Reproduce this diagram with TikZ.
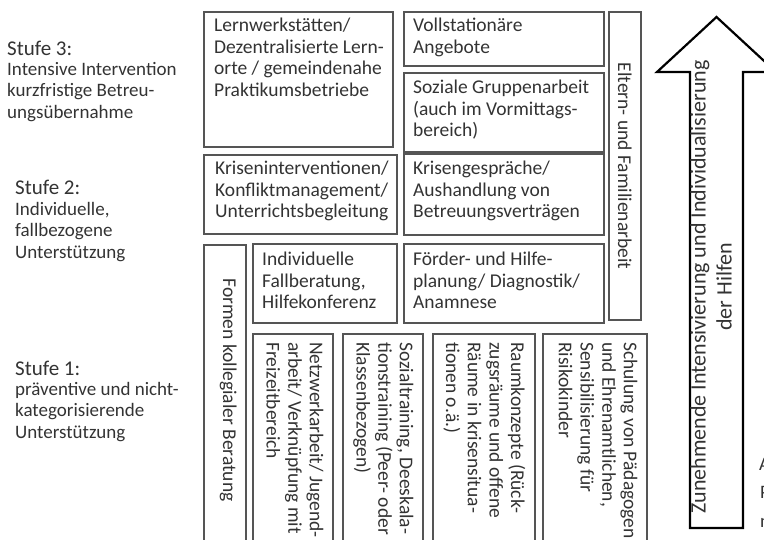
\documentclass[tikz,border=0pt]{standalone}
\usepackage{fontspec}
\setmainfont{Carlito}
\definecolor{linie}{HTML}{555555}
\definecolor{schrift}{HTML}{333333}

\begin{document}
\begin{tikzpicture}[x=1pt, y=-1pt,
	feld/.style={draw=linie, line width=1.1pt},
	txt/.style={anchor=north west, align=left, inner sep=0pt, text=schrift,
		font=\fontsize{19.5}{21.7}\selectfont, execute at begin node=\strut},
	stufe/.style={anchor=base west, inner sep=0pt, text=schrift, font=\fontsize{21}{25}\selectfont},
	hoch/.style={txt, rotate=-90}]
	\path[use as bounding box] (0,0) rectangle (764,540);
	\clip (0,0) rectangle (764,540);

	% Stufen links
	\node[stufe] (stufe3) at (7,56) {Stufe 3:};
	\node[txt, font=\fontsize{19}{21.7}\selectfont] (stufe3text) at (7,61.8) {Intensive Intervention\\kurzfristige Betreu-\\ungsübernahme};
	\node[stufe] (stufe2) at (15,195) {Stufe 2:};
	\node[txt, font=\fontsize{19}{21.7}\selectfont] (stufe2text) at (15,201.8) {Individuelle,\\fallbezogene\\Unterstützung};
	\node[stufe] (stufe1) at (15,376) {Stufe 1:};
	\node[txt, font=\fontsize{19}{21.7}\selectfont] (stufe1text) at (15,381.8) {präventive und nicht-\\kategorisierende\\Unterstützung};

	% Stufe 3
	\draw[feld] (204,12) rectangle (393,147);
	\node[txt] (lernorte) at (214,17.8) {Lernwerkstätten/\\Dezentralisierte Lern-\\orte / gemeindenahe\\Praktikumsbetriebe};
	\draw[feld] (404,12) rectangle (604,66);
	\node[txt] (stationaer) at (413,17.8) {Vollstationäre\\Angebote};
	\draw[feld] (404,73) rectangle (604,152);
	\node[txt] (gruppe) at (413,79.8) {Soziale Gruppenarbeit\\(auch im Vormittags-\\bereich)};
	\draw[feld] (609,12) rectangle (641,320);
	\node[hoch, anchor=base] (eltern) at (618,166) {Eltern- und Familienarbeit};

	% Stufe 2
	\draw[feld] (204,155) rectangle (397,234);
	\node[txt] (krisenint) at (215,160.8) {Kriseninterventionen/\\Konfliktmanagement/\\Unterrichtsbegleitung};
	\draw[feld] (404,154) rectangle (604,235);
	\node[txt] (krisengespr) at (413,160.8) {Krisengespräche/\\Aushandlung von\\Betreuungsverträgen};

	% Stufe 1
	\draw[feld] (204,245) rectangle (246,560);
	\node[hoch, anchor=base] (kollegial) at (223,390) {Formen kollegialer Beratung};
	\draw[feld] (253,244) rectangle (397,323);
	\node[txt] (fallberatung) at (262,251.8) {Individuelle\\Fallberatung,\\Hilfekonferenz};
	\draw[feld] (404,244) rectangle (604,323);
	\node[txt] (foerder) at (413,251.8) {Förder- und Hilfe-\\planung/ Diagnostik/\\Anamnese};

	\draw[feld] (253,334) rectangle (333,560);
	\node[hoch] (netzwerk) at (323.7,342) {Netzwerkarbeit/ Jugend-\\arbeit/ Verknüpfung mit\\Freizeitbereich};
	\draw[feld] (343,334) rectangle (423,560);
	\node[hoch] (sozialtr) at (413.7,342) {Sozialtraining, Deeskala-\\tionstraining (Peer- oder\\Klassenbezogen)};
	\draw[feld] (433,334) rectangle (535,560);
	\node[hoch] (raum) at (525.7,342) {Raumkonzepte (Rück-\\zugsräume und offene\\Räume in krisensitua-\\tionen o.ä.)};
	\draw[feld] (543,334) rectangle (647,560);
	\node[hoch] (schulung) at (637.7,342) {Schulung von Pädagogen\\und Ehrenamtlichen,\\Sensibilisierung für\\Risikokinder};

	% Pfeil
	\draw[line width=2.2pt, line join=miter] (690,528) -- (743,528) -- (743,72) -- (776,72)
		-- (716.5,17) -- (657,72) -- (690,72) -- cycle;
	\node[rotate=90, align=center, inner sep=0pt, font=\fontsize{22}{26}\selectfont, text=schrift]
		(zunahme) at (711,287) {Zunehmende Intensivierung und Individualisierung\\der Hilfen};

	% abgeschnittener Text rechts
	\node[stufe, font=\fontsize{19}{21.7}\selectfont] (restA) at (759,470) {A};
	\node[stufe, font=\fontsize{19}{21.7}\selectfont] (restP) at (760,498) {P};
	\node[stufe, font=\fontsize{19}{21.7}\selectfont] (restN) at (760,527) {n};
\end{tikzpicture}
\end{document}
